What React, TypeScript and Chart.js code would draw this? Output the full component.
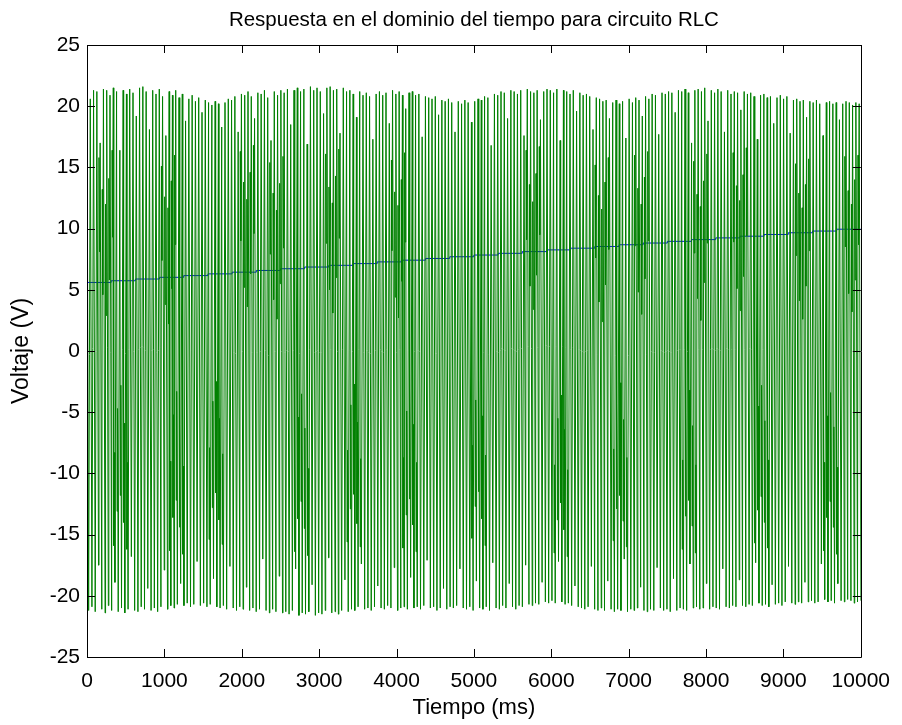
import React, { useEffect, useRef } from "react";
import { Chart, registerables } from "chart.js";

Chart.register(...registerables);

const TITLE = "Respuesta en el dominio del tiempo para circuito RLC";
const X_TITLE = "Tiempo (ms)";
const Y_TITLE = "Voltaje (V)";
const X_MIN = 0;
const X_MAX = 10000;
const X_STEP = 1000;
const Y_MIN = -25;
const Y_MAX = 25;
const Y_STEP = 5;

// Upper turning points of the green signal (V), left to right
const peaks = [
  21.1, 20.6, 21.3, 21.2, 17.0, 21.4, 21.3, 20.9, 21.5, 21.2, 16.4, 21.3, 21.0, 21.4, 21.1, 19.2, 21.5, 21.6, 21.2, 18.1,
  21.3, 21.0, 21.4, 20.8, 17.6, 21.2, 20.9, 21.3, 20.7, 21.0, 18.8, 20.6, 20.9, 20.4, 20.7, 19.5, 20.5, 20.3, 20.1, 20.4,
  20.2, 18.3, 20.3, 20.6, 20.5, 20.8, 17.9, 21.0, 20.9, 21.2, 20.8, 19.0, 21.1, 21.0, 21.3, 20.7, 17.2, 21.2, 20.9, 21.3,
  21.1, 21.4, 18.5, 21.3, 21.5, 21.2, 21.4, 16.9, 21.6, 21.3, 21.5, 21.2, 19.4, 21.5, 21.6, 21.3, 21.4, 17.8, 21.5, 21.2,
  21.3, 21.0, 19.1, 21.2, 20.9, 21.1, 20.8, 17.3, 21.0, 21.2, 20.9, 21.1, 18.6, 21.3, 21.0, 21.2, 20.9, 19.8, 21.1, 21.2,
  20.9, 21.0, 17.5, 20.8, 20.7, 20.6, 20.8, 19.3, 20.5, 20.4, 20.6, 20.3, 17.9, 20.4, 20.2, 20.5, 20.3, 18.7, 20.4, 20.6,
  20.5, 20.8, 20.7, 16.8, 21.0, 20.9, 21.2, 21.1, 19.0, 21.3, 21.2, 21.0, 21.3, 17.6, 21.4, 21.2, 21.1, 21.3, 18.9, 21.2,
  21.4, 21.3, 21.1, 21.4, 17.2, 21.3, 21.2, 21.0, 21.3, 19.6, 21.1, 20.9, 21.0, 20.8, 18.1, 20.7, 20.6, 20.4, 20.5, 19.0,
  20.3, 20.5, 20.2, 20.4, 17.4, 20.6, 20.3, 20.7, 20.5, 19.2, 20.8, 20.6, 21.0, 20.9, 17.7, 21.1, 21.0, 21.2, 21.1, 19.5,
  21.3, 21.2, 21.4, 21.1, 17.0, 21.3, 21.4, 21.2, 21.5, 18.8, 21.3, 21.1, 21.4, 21.2, 17.9, 21.3, 21.0, 21.2, 21.1, 19.7,
  21.2, 21.0, 21.1, 20.8, 17.3, 20.9, 21.0, 20.7, 20.8, 18.6, 20.7, 20.9, 20.6, 20.8, 17.8, 20.5, 20.6, 20.4, 20.5, 19.1,
  20.4, 20.3, 20.5, 20.2, 17.6, 20.3, 20.4, 20.2, 20.3, 18.9, 20.2, 20.4, 20.3, 20.1, 20.3, 20.2,
];

// Lower turning points of the green signal (V), left to right
const troughs = [
  -21.2, -20.9, -21.3, -17.5, -21.1, -21.4, -20.8, -21.2, -18.9, -21.3, -21.0, -21.4, -21.1, -16.8, -21.2, -21.3, -20.9, -21.1, -19.4, -21.2,
  -21.0, -21.3, -20.9, -17.9, -21.1, -20.8, -21.0, -20.7, -19.0, -20.8, -20.6, -20.9, -20.7, -17.2, -20.8, -20.6, -20.9, -20.7, -18.6, -20.9,
  -21.0, -20.8, -21.1, -17.6, -21.0, -21.2, -20.9, -21.1, -19.3, -21.2, -21.0, -21.3, -21.1, -17.0, -21.2, -21.4, -21.1, -21.3, -18.4, -21.4,
  -21.3, -21.5, -21.2, -17.8, -21.6, -21.4, -21.5, -21.3, -19.1, -21.6, -21.4, -21.5, -21.2, -16.9, -21.4, -21.3, -21.5, -21.2, -18.7, -21.3,
  -21.1, -21.2, -20.9, -17.4, -21.1, -21.0, -21.2, -20.9, -19.2, -21.0, -21.1, -20.8, -21.0, -17.7, -21.2, -21.0, -20.9, -21.1, -18.5, -21.0,
  -20.9, -21.1, -20.8, -17.1, -21.0, -20.9, -21.2, -21.0, -19.4, -21.1, -20.9, -21.0, -20.8, -17.8, -21.0, -21.1, -20.9, -21.2, -18.8, -21.0,
  -21.1, -20.9, -21.2, -17.3, -21.0, -21.1, -20.8, -21.0, -19.0, -20.9, -21.1, -20.8, -20.9, -17.5, -20.7, -20.8, -20.6, -20.7, -18.9, -20.5,
  -20.6, -20.4, -20.6, -17.2, -20.5, -20.7, -20.6, -20.8, -19.2, -20.9, -21.0, -21.1, -20.9, -17.6, -21.1, -21.2, -21.0, -21.2, -18.8, -21.1,
  -21.3, -21.1, -21.2, -17.0, -21.3, -21.1, -21.2, -21.0, -19.3, -21.2, -21.3, -21.1, -21.2, -17.7, -21.0, -21.2, -21.1, -21.3, -18.6, -21.2,
  -21.0, -21.1, -21.2, -17.4, -21.0, -20.9, -21.1, -21.0, -19.0, -21.1, -20.9, -21.0, -21.1, -17.8, -20.9, -21.0, -20.8, -20.9, -18.7, -20.8,
  -20.9, -20.7, -20.8, -17.3, -20.6, -20.8, -20.7, -20.9, -19.1, -20.7, -20.6, -20.8, -20.5, -17.6, -20.6, -20.7, -20.5, -20.6, -18.9, -20.5,
  -20.4, -20.6, -20.5, -17.4, -20.3, -20.5, -20.4, -20.6, -19.0, -20.4, -20.5, -20.3, -20.4, -20.6, -20.5, -20.4,
];

// Extra inner swings in the upper half: [cycle, high (V), low (V)], inserted after the trough of that cycle
const upperSwings: [number, number, number][] = [
  [3, 15.8, 8.1], [4, 13.2, 4.6], [5, 12.0, 2.9], [6, 14.1, 5.8], [7, 16.4, 9.3],
  [22, 15.1, 7.4], [23, 12.6, 3.8], [24, 11.7, 2.2], [25, 13.9, 5.1], [26, 16.0, 8.7],
  [46, 16.3, 9.0], [47, 13.8, 5.2], [48, 12.4, 3.6], [49, 14.6, 6.3], [50, 16.8, 9.6],
  [55, 15.4, 7.9], [56, 12.9, 4.2], [57, 11.5, 2.6], [58, 13.7, 5.5], [59, 15.9, 8.4],
  [72, 16.1, 8.8], [73, 13.4, 5.0], [74, 12.1, 3.1], [75, 14.3, 6.0], [76, 16.5, 9.2],
  [92, 15.6, 8.2], [93, 13.0, 4.4], [94, 11.9, 2.7], [95, 14.0, 5.7], [96, 16.2, 8.9],
  [133, 16.4, 9.1], [134, 13.6, 5.3], [135, 12.2, 3.4], [136, 14.5, 6.2], [137, 16.7, 9.5],
  [154, 15.2, 7.6], [155, 12.7, 4.0], [156, 11.6, 2.4], [157, 13.8, 5.4], [158, 15.8, 8.3],
  [166, 16.0, 8.6], [167, 13.3, 4.8], [168, 12.0, 3.0], [169, 14.2, 5.9], [170, 16.3, 9.0],
  [184, 15.5, 8.0], [185, 12.8, 4.3], [186, 11.8, 2.5], [187, 13.9, 5.6], [188, 16.1, 8.8],
  [196, 16.2, 8.9], [197, 13.5, 5.1], [198, 12.3, 3.3], [199, 14.4, 6.1], [200, 16.6, 9.4],
  [215, 15.3, 7.8], [216, 12.9, 4.1], [217, 11.7, 2.6], [218, 13.6, 5.3], [219, 15.7, 8.2],
  [230, 15.9, 8.5], [231, 13.1, 4.7], [232, 12.0, 3.2], [233, 14.0, 5.8], [234, 16.0, 8.7],
];

// Extra inner swings in the lower half: [cycle, low (V), high (V)], inserted after the peak of that cycle
const lowerSwings: [number, number, number][] = [
  [8, -15.9, -8.3], [9, -13.1, -4.7], [10, -11.8, -2.8], [11, -14.0, -5.9], [12, -16.2, -9.1],
  [25, -16.3, -9.0], [26, -13.6, -5.2], [27, -12.2, -3.3], [28, -14.4, -6.0], [29, -16.6, -9.4],
  [37, -15.4, -7.9], [38, -12.8, -4.1], [39, -11.6, -2.5], [40, -13.8, -5.5], [41, -15.8, -8.4],
  [63, -16.4, -9.2], [64, -13.7, -5.4], [65, -12.3, -3.5], [66, -14.5, -6.3], [67, -16.7, -9.6],
  [79, -15.6, -8.1], [80, -12.9, -4.4], [81, -11.7, -2.7], [82, -14.1, -5.8], [83, -16.0, -8.8],
  [96, -16.1, -8.7], [97, -13.4, -4.9], [98, -12.1, -3.1], [99, -14.2, -6.0], [100, -16.4, -9.1],
  [117, -15.3, -7.7], [118, -12.7, -4.0], [119, -11.5, -2.4], [120, -13.7, -5.3], [121, -15.9, -8.5],
  [142, -16.5, -9.3], [143, -13.8, -5.5], [144, -12.4, -3.6], [145, -14.6, -6.4], [146, -16.8, -9.7],
  [160, -15.5, -8.0], [161, -12.9, -4.3], [162, -11.8, -2.6], [163, -13.9, -5.6], [164, -16.0, -8.7],
  [181, -16.2, -8.9], [182, -13.5, -5.0], [183, -12.2, -3.2], [184, -14.3, -6.1], [185, -16.5, -9.3],
  [203, -15.7, -8.2], [204, -13.0, -4.5], [205, -11.9, -2.8], [206, -14.0, -5.7], [207, -16.1, -8.9],
  [224, -16.3, -9.1], [225, -13.6, -5.3], [226, -12.3, -3.4], [227, -14.4, -6.2], [228, -16.6, -9.5],
];

// Slowly rising blue staircase (V), evenly spaced over the time range
const blueLevels = [
  5.45, 5.6, 5.74, 5.88, 6.02, 6.16, 6.3, 6.44, 6.58, 6.72, 6.86, 7.0, 7.14, 7.28, 7.42, 7.56, 7.7,
  7.84, 7.98, 8.12, 8.26, 8.4, 8.54, 8.68, 8.82, 8.96, 9.1, 9.24, 9.38, 9.52, 9.66, 9.8, 9.95,
];

const FONT = "'Liberation Sans', Arial, Helvetica, sans-serif";

const framePlugin = {
  id: "matlabFrame",
  afterDatasetsDraw(chart: any) {
    const { ctx, chartArea, scales } = chart;
    const { left, right, top, bottom } = chartArea;
    const TL = 8;
    ctx.save();
    ctx.strokeStyle = "#000";
    ctx.lineWidth = 1;
    ctx.beginPath();
    ctx.rect(Math.round(left) + 0.5, Math.round(top) + 0.5, Math.round(right - left), Math.round(bottom - top));
    const xs = scales.x;
    xs.ticks.forEach((_t: any, i: number) => {
      const px = Math.round(xs.getPixelForTick(i)) + 0.5;
      ctx.moveTo(px, bottom);
      ctx.lineTo(px, bottom - TL);
      ctx.moveTo(px, top);
      ctx.lineTo(px, top + TL);
    });
    const ys = scales.y;
    ys.ticks.forEach((_t: any, i: number) => {
      const py = Math.round(ys.getPixelForTick(i)) + 0.5;
      ctx.moveTo(left, py);
      ctx.lineTo(left + TL, py);
      ctx.moveTo(right, py);
      ctx.lineTo(right - TL, py);
    });
    ctx.stroke();
    ctx.restore();
  },
};

export default function App() {
  const ref = useRef<HTMLCanvasElement | null>(null);

  useEffect(() => {
    if (!ref.current) return;
    Chart.defaults.font.family = FONT;

    const upMap = new Map<number, [number, number]>();
    upperSwings.forEach(([c, hi, lo]) => upMap.set(c, [hi, lo]));
    const lowMap = new Map<number, [number, number]>();
    lowerSwings.forEach(([c, lo, hi]) => lowMap.set(c, [lo, hi]));

    const nCycles = peaks.length;
    const dt = (X_MAX - X_MIN) / (nCycles - 0.5);
    const greenData: { x: number; y: number }[] = [];
    for (let i = 0; i < nCycles; i++) {
      const t0 = X_MIN + i * dt;
      greenData.push({ x: t0, y: peaks[i] });
      const lw = lowMap.get(i);
      if (lw) {
        greenData.push({ x: t0 + dt * 0.15, y: lw[0] });
        greenData.push({ x: t0 + dt * 0.3, y: lw[1] });
      }
      greenData.push({ x: t0 + dt * 0.5, y: troughs[i] });
      const up = upMap.get(i);
      if (up && i < nCycles - 1) {
        greenData.push({ x: t0 + dt * 0.65, y: up[0] });
        greenData.push({ x: t0 + dt * 0.8, y: up[1] });
      }
    }
    const nb = blueLevels.length;
    const blueData = blueLevels.map((v, k) => ({ x: X_MIN + (k * (X_MAX - X_MIN)) / (nb - 1), y: v }));

    const chart = new Chart(ref.current, {
      type: "line",
      data: {
        datasets: [
          {
            data: greenData,
            borderColor: "rgb(0,128,0)",
            borderWidth: 1,
            pointRadius: 0,
            tension: 0,
            fill: false,
          },
          {
            data: blueData,
            borderColor: "rgb(0,0,255)",
            borderWidth: 1,
            pointRadius: 0,
            stepped: "after",
            fill: false,
          },
        ],
      },
      options: {
        responsive: false,
        animation: false,
        events: [],
        layout: { padding: { left: 0, right: 32, top: 0, bottom: 0 } },
        plugins: {
          legend: { display: false },
          tooltip: { enabled: false },
          title: {
            display: true,
            text: TITLE,
            color: "#000",
            fullSize: false,
            font: { size: 20.5, weight: "normal", family: FONT },
            padding: { top: 8.5, bottom: 11.9 },
          },
        },
        scales: {
          x: {
            type: "linear",
            min: X_MIN,
            max: X_MAX,
            grid: { display: false, drawTicks: false },
            border: { display: false },
            ticks: {
              stepSize: X_STEP,
              color: "#000",
              font: { size: 21, family: FONT },
              padding: 12,
              maxRotation: 0,
              autoSkip: false,
              callback: (v: any) => String(v),
            },
            title: {
              display: true,
              text: X_TITLE,
              color: "#000",
              font: { size: 22, family: FONT },
              padding: { top: 4, bottom: 4 },
            },
            afterFit: (s: any) => {
              s.height = 68;
            },
          },
          y: {
            type: "linear",
            min: Y_MIN,
            max: Y_MAX,
            grid: { display: false, drawTicks: false },
            border: { display: false },
            ticks: {
              stepSize: Y_STEP,
              color: "#000",
              font: { size: 21, family: FONT },
              padding: 7,
              callback: (v: any) => String(v),
            },
            title: {
              display: true,
              text: Y_TITLE,
              color: "#000",
              font: { size: 23, family: FONT },
              padding: { top: 8, bottom: 4 },
            },
            afterFit: (s: any) => {
              s.width = 87;
            },
          },
        },
      },
      plugins: [framePlugin],
    });
    return () => chart.destroy();
  }, []);

  return (
    <div style={{ position: "absolute", left: 0, top: 0, width: 902, height: 725, background: "#fff" }}>
      <canvas ref={ref} width={902} height={725} style={{ display: "block" }} />
    </div>
  );
}
